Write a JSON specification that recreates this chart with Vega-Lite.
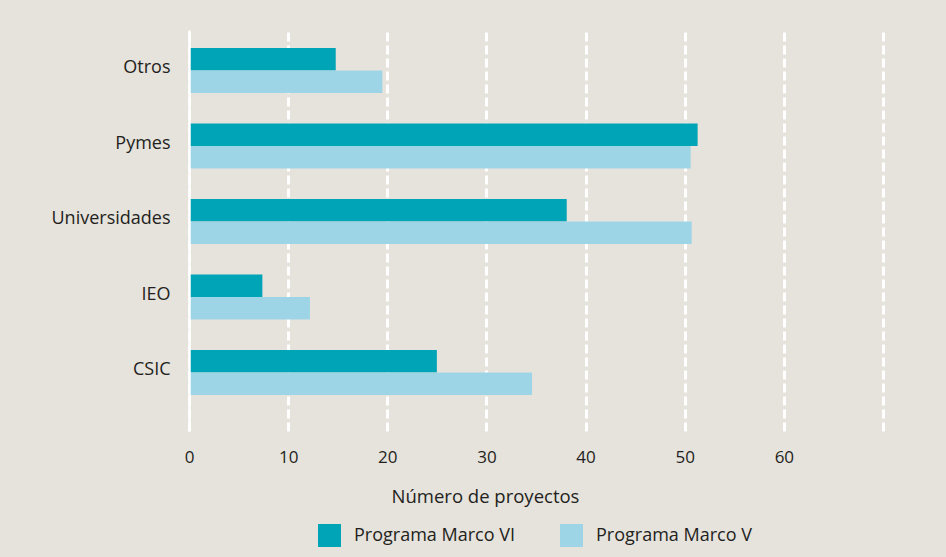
{
  "$schema": "https://vega.github.io/schema/vega-lite/v6.json",
  "width": 694,
  "height": 401,
  "autosize": {"type": "none"},
  "padding": {"left": 189, "top": 30, "right": 63, "bottom": 126},
  "background": "#E6E2DC",
  "data": {
    "values": [
      {"sector": "Otros", "programa": "Programa Marco VI", "valor": 14.8},
      {"sector": "Otros", "programa": "Programa Marco V", "valor": 19.5},
      {"sector": "Pymes", "programa": "Programa Marco VI", "valor": 51.3},
      {"sector": "Pymes", "programa": "Programa Marco V", "valor": 50.6},
      {"sector": "Universidades", "programa": "Programa Marco VI", "valor": 38.1},
      {"sector": "Universidades", "programa": "Programa Marco V", "valor": 50.7},
      {"sector": "IEO", "programa": "Programa Marco VI", "valor": 7.4},
      {"sector": "IEO", "programa": "Programa Marco V", "valor": 12.2},
      {"sector": "CSIC", "programa": "Programa Marco VI", "valor": 25.0},
      {"sector": "CSIC", "programa": "Programa Marco V", "valor": 34.6}
    ]
  },
  "mark": {"type": "bar"},
  "encoding": {
    "y": {
      "field": "sector",
      "type": "nominal",
      "sort": ["Otros", "Pymes", "Universidades", "IEO", "CSIC"],
      "scale": {"paddingInner": 0.404, "paddingOuter": 0.3576, "align": 0.333},
      "axis": {
        "title": null,
        "domain": true,
        "domainColor": "#FFFFFF",
        "domainWidth": 2.5,
        "ticks": false,
        "tickSize": 0,
        "grid": false,
        "labelPadding": 19,
        "labelOffset": -2,
        "labelFontSize": 18,
        "labelColor": "#231F20",
        "labelFont": "Open Sans",
        "zindex": 1
      }
    },
    "yOffset": {
      "field": "programa",
      "type": "nominal",
      "sort": ["Programa Marco VI", "Programa Marco V"],
      "scale": {"paddingInner": 0, "paddingOuter": 0}
    },
    "x": {
      "field": "valor",
      "type": "quantitative",
      "scale": {"domain": [0, 70], "nice": false},
      "axis": {
        "values": [0, 10, 20, 30, 40, 50, 60, 70],
        "labelExpr": "datum.value == 70 ? '' : datum.label",
        "labelFlush": false,
        "grid": true,
        "gridColor": "#FFFFFF",
        "gridWidth": 3,
        "gridDash": [9, 4],
        "gridOpacity": 1,
        "domain": false,
        "ticks": false,
        "tickSize": 0,
        "labelPadding": 31,
        "labelBaseline": "alphabetic",
        "labelFontSize": 17,
        "labelColor": "#231F20",
        "labelFont": "Open Sans",
        "title": "Número de proyectos",
        "titleFont": "Open Sans",
        "titleFontSize": 18.5,
        "titleFontWeight": "normal",
        "titleColor": "#231F20",
        "titleX": 296,
        "titleY": 71,
        "titleAlign": "center",
        "titleBaseline": "alphabetic"
      }
    },
    "color": {
      "field": "programa",
      "type": "nominal",
      "sort": ["Programa Marco VI", "Programa Marco V"],
      "scale": {"domain": ["Programa Marco VI", "Programa Marco V"], "range": ["#00A4B7", "#9DD5E6"]},
      "legend": {
        "orient": "none",
        "legendX": 129,
        "legendY": 494,
        "direction": "horizontal",
        "title": null,
        "symbolType": "square",
        "symbolSize": 529,
        "symbolStrokeWidth": 0,
        "symbolOpacity": 1,
        "labelFontSize": 18,
        "labelFont": "Open Sans",
        "labelColor": "#231F20",
        "labelOffset": 13,
        "labelLimit": 400,
        "columnPadding": 45,
        "padding": 0
      }
    }
  },
  "config": {"view": {"stroke": null}, "font": "Open Sans"}
}
